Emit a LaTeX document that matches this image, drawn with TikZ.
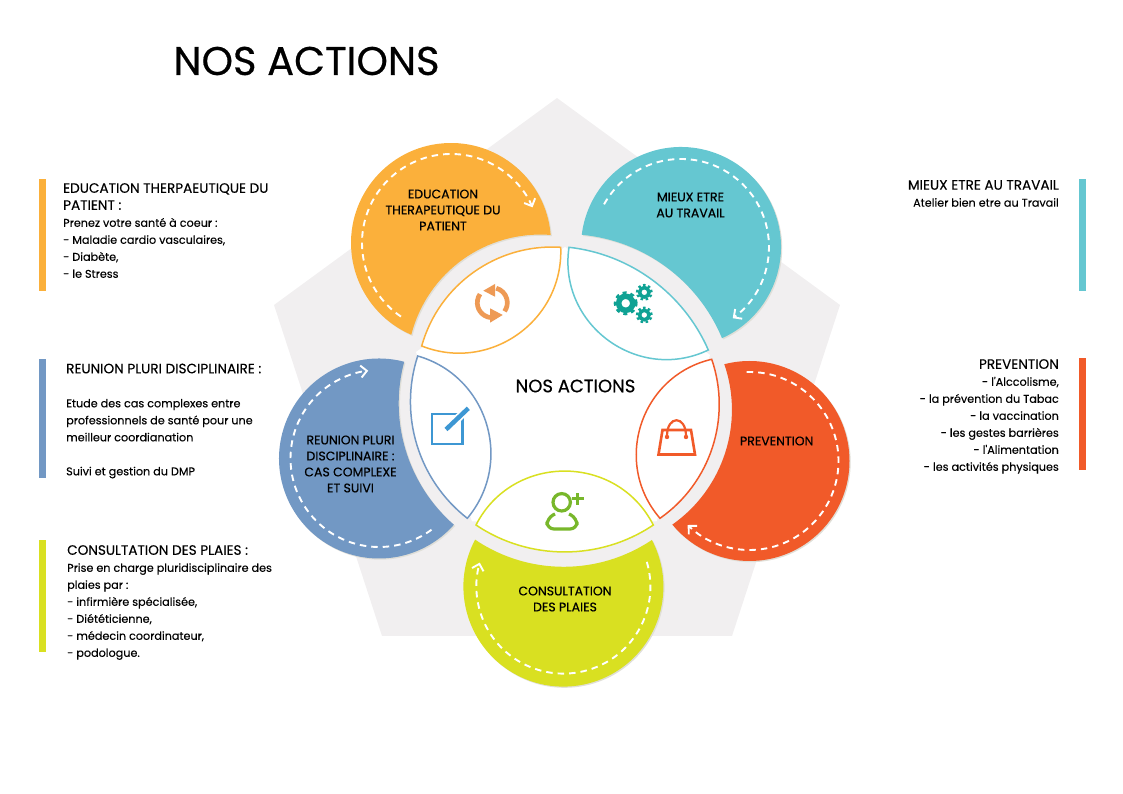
\documentclass[tikz,border=0pt]{standalone}
\usepackage{fontspec}
\setmainfont{Poppins}
\newfontfamily\tagfont[FakeBold=0.5]{Poppins}
\newfontfamily\sidefont[FakeBold=0.2]{Poppins}
\usetikzlibrary{arrows.meta, calc}

\definecolor{panelC}{HTML}{F1EFF0}
\definecolor{shadowC}{HTML}{E0DFD8}
\definecolor{orangeC}{HTML}{FBB03B}
\definecolor{tealC}{HTML}{65C7D1}
\definecolor{blueC}{HTML}{7298C4}
\definecolor{redC}{HTML}{F15A29}
\definecolor{limeC}{HTML}{D9E021}
\definecolor{syncC}{HTML}{EE9A55}
\definecolor{gearC}{HTML}{0FA294}
\definecolor{editC}{HTML}{3D97D3}
\definecolor{userC}{HTML}{78B72B}

\newcommand{\capsline}[1]{{\fontsize{13.6}{17}\selectfont #1}}

\begin{document}
\begin{tikzpicture}[
        x=1pt, y=1pt,
        petal/.style={fill=#1, preaction={fill=shadowC, transform canvas={shift={(1.2pt,-1.2pt)}}}},
        lens/.style={draw=#1, fill=white, line width=1.5pt, line join=miter},
        trail/.style={draw=white, line width=1.9pt, dash pattern=on 6.5pt off 5pt, -{Straight Barb[length=6pt,width=12pt]}},
        bar/.style={fill=#1, minimum width=7pt, inner sep=0pt, draw=none},
        side/.style={inner sep=0pt, font=\sidefont\fontsize{11.2}{17}\selectfont},
        tag/.style={inner sep=0pt, align=center, font=\tagfont\fontsize{12.5}{16}\selectfont}
    ]

    \useasboundingbox (0,0) rectangle (1123,794);

    \node[inner sep=0pt, font=\tagfont\fontsize{40}{44}\selectfont] (title) at (306.5,733) {NOS ACTIONS};

    % background
    \fill[panelC] (557,696) -- (840,489) -- (732,158) -- (382,158) -- (274,489) -- cycle;
    \fill[white] (565,547) -- (416,442) -- (472,272.5) -- (656.5,272.5) -- (710,439) -- cycle;

    % petals
    \coordinate (eduC) at (451,551);
    \coordinate (mieC) at (681,547);
    \coordinate (reuC) at (379,335.5);
    \coordinate (preC) at (749.5,333);
    \coordinate (conC) at (563.4,207.4);

    \fill[petal=orangeC] ($(eduC)+(4.6:100)$) arc[start angle=4.6, end angle=246.6, radius=100] to[bend left=40, looseness=.965] cycle;
    \fill[petal=tealC] ($(mieC)+(-65.8:100)$) arc[start angle=-65.8, end angle=173, radius=100] to[bend left=31, looseness=.917] cycle;
    \fill[petal=blueC] ($(reuC)+(75.4:100)$) arc[start angle=75.4, end angle=318.5, radius=100] to[bend left=32, looseness=.92] cycle;
    \fill[petal=redC] ($(preC)+(-140.5:100)$) arc[start angle=-140.5, end angle=104.6, radius=100] to[bend left=37, looseness=.946] cycle;
    \fill[petal=limeC] ($(conC)+(152:100)$) arc[start angle=152, end angle=387.8, radius=100] to[bend left=34, looseness=.93] cycle;

    \draw[trail] ($(eduC)+(235.8:89)$) arc[start angle=235.8, end angle=23.6, radius=89];
    \draw[trail] ($(mieC)+(151:88)$) arc[start angle=151, end angle=-54, radius=88];
    \draw[trail] ($(reuC)+(306.4:88.5)$) arc[start angle=306.4, end angle=97, radius=88.5];
    \draw[trail] ($(preC)+(91.8:89)$) arc[start angle=91.8, end angle=-134, radius=89];
    \draw[trail] ($(conC)+(16.5:87)$) arc[start angle=16.5, end angle=-196, radius=87];

    % lenses
    \draw[lens=orangeC] (560.7,546.7) to[bend right=39, looseness=.957] (421.7,448) to[bend right=57, looseness=1.1] cycle;
    \draw[lens=tealC] (708.3,444) to[bend right=30, looseness=.911] (569,546.7) to[bend right=62, looseness=1.15] cycle;
    \draw[lens=blueC] (417.7,438) to[bend right=35, looseness=.937] (467.3,275.7) to[bend right=57, looseness=1.1] cycle;
    \draw[lens=redC] (660,275.7) to[bend right=37, looseness=.947] (711.7,434.7) to[bend right=59, looseness=1.12] cycle;
    \draw[lens=limeC] (476,269) to[bend right=34, looseness=.93] (653.3,269) to[bend right=63, looseness=1.167] cycle;

    % sync icon
    \coordinate (sync) at (492.3,491.3);
    \draw[syncC, line width=4.7pt] ($(sync)+(75:15)$) arc[start angle=75, end angle=-35, radius=15];
    \draw[syncC, line width=4.7pt] ($(sync)+(262:15)$) arc[start angle=262, end angle=145, radius=15];
    \fill[syncC] (483.3,503.3) -- (495,510) -- (495,497.3) -- cycle;
    \fill[syncC] (502.7,479) -- (490,485.7) -- (490,471.3) -- cycle;

    % gears
    \draw[gearC, line width=5.5pt] (625.7,490.7) circle[radius=7];
    \draw[gearC, line width=3pt, dash pattern=on 3.9pt off 3.9pt] (625.7,490.7) circle[radius=10.5];
    \draw[gearC, line width=3.5pt] (644.3,501.7) circle[radius=4.7];
    \draw[gearC, line width=2.4pt, dash pattern=on 2.5pt off 2.5pt] (644.3,501.7) circle[radius=7.2];
    \draw[gearC, line width=3.5pt] (644.3,479) circle[radius=4.7];
    \draw[gearC, line width=2.4pt, dash pattern=on 2.5pt off 2.5pt] (644.3,479) circle[radius=7.2];

    % edit icon
    \draw[editC, line width=2.6pt] (432,380) rectangle (462.5,350);
    \draw[white, line width=8pt] (446,364.5) -- (468.3,385.7);
    \draw[editC, line width=4.5pt] (446,364.5) -- (468.3,385.7);

    % bag icon
    \draw[redC, line width=2.6pt, line join=miter] (658.5,339.5) -- (662.5,364) -- (691,364) -- (695,339.5) -- cycle;
    \draw[redC, line width=2.2pt] (667,358) .. controls (667,379) and (686,379) .. (686,358);
    \fill[redC] (667,357) circle[radius=2.2];
    \fill[redC] (686,357) circle[radius=2.2];

    % user icon
    \draw[userC, line width=3.2pt] (561.7,291.7) circle[radius=8.7];
    \draw[userC, line width=3.2pt, rounded corners=7pt] (555,280) -- (547,276) -- (547,265) -- (577,265) -- (577,276) -- (569,280);
    \draw[userC, line width=2.6pt] (571.7,295.3) -- (583.7,295.3);
    \draw[userC, line width=2.6pt] (577.7,289.3) -- (577.7,301.3);

    % petal texts
    \node[inner sep=0pt, font=\tagfont\fontsize{18}{20}\selectfont] (centre) at (575.5,408) {NOS ACTIONS};
    \node[tag] (edu) at (443,584) {EDUCATION\\THERAPEUTIQUE DU\\PATIENT};
    \node[tag] (mie) at (690.5,589) {MIEUX ETRE\\ AU TRAVAIL};
    \node[tag] (reu) at (350.5,330) {REUNION PLURI\\DISCIPLINAIRE :\\CAS COMPLEXE\\ET SUIVI};
    \node[tag] (pre) at (776.7,353) {PREVENTION};
    \node[tag] (con) at (565,195) {CONSULTATION\\DES PLAIES};

    % side bars
    \node[bar=orangeC, minimum height=112pt] (baredu) at (42.5,559) {};
    \node[bar=blueC, minimum height=119pt] (barreu) at (42.5,375.5) {};
    \node[bar=limeC, minimum height=112pt] (barcon) at (42.5,198) {};
    \node[bar=tealC, minimum height=112pt] (barmie) at (1082.5,559) {};
    \node[bar=redC, minimum height=112pt] (barpre) at (1082.5,380) {};

    % side texts
    \node[side, anchor=north west, align=left] (txtedu) at (63,611) {\capsline{EDUCATION THERPAEUTIQUE DU}\\\capsline{PATIENT :}\\Prenez votre santé à coeur :\\- Maladie cardio vasculaires,\\- Diabète,\\- le Stress};
    \node[side, anchor=north west, align=left] (txtreu) at (66,430.5) {\capsline{REUNION PLURI DISCIPLINAIRE :}\\[17pt]Etude des cas complexes entre\\professionnels de santé pour une\\meilleur coordianation\\[17pt]Suivi et gestion du DMP};
    \node[side, anchor=north west, align=left] (txtcon) at (67,249) {\capsline{CONSULTATION DES PLAIES :}\\Prise en charge pluridisciplinaire des\\plaies par :\\- infirmière spécialisée,\\- Diététicienne,\\- médecin coordinateur,\\- podologue.};
    \node[side, anchor=north east, align=right] (txtmie) at (1059,614) {\capsline{MIEUX ETRE AU TRAVAIL}\\Atelier bien etre au Travail};
    \node[side, anchor=north east, align=right] (txtpre) at (1059,435) {\capsline{PREVENTION}\\- l'Alccolisme,\\- la prévention du Tabac\\- la vaccination\\- les gestes barrières\\- l'Alimentation \\- les activités physiques};
\end{tikzpicture}
\end{document}
